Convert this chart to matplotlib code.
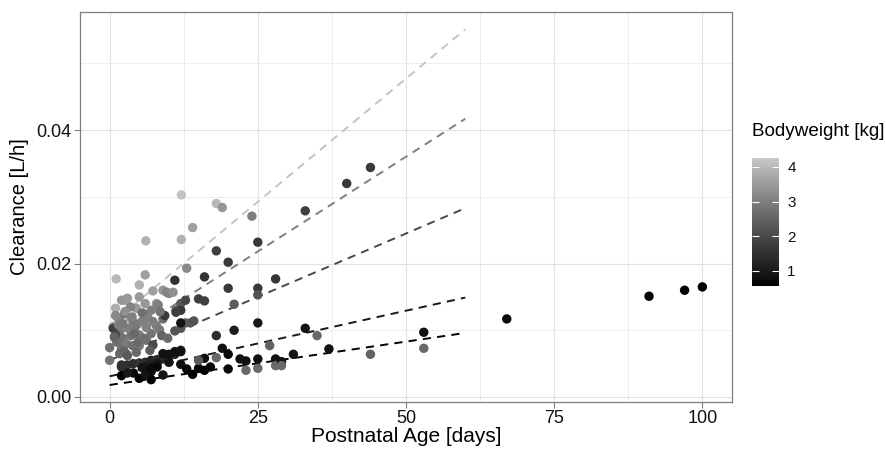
import matplotlib
matplotlib.use("Agg")
import matplotlib.pyplot as plt
import matplotlib.colors as mcolors
import numpy as np

plt.rcParams['font.family'] = ['Liberation Sans', 'DejaVu Sans']

# observed data: postnatal age [days], clearance [L/h], bodyweight [kg]
age = [1.1, 6, 5, 1, 2.5, 3, 2, 7.3, 9, 7.9, 5, 3.5, 0.6, 4.5,
       0, 0, 1.7, 1.7, 2.2, 2, 2.8, 3.6, 3.1, 4.3, 5.4, 6.2, 7, 8.2,
       10, 9.6, 10.7, 11.2, 12, 7, 7.9, 9, 6.2, 5, 3.9, 5, 6.2, 7.3,
       8.4, 1.7, 1.1, 4.5, 11, 12, 12.8, 13.6, 14.2, 12.8,
       0.6, 1, 12, 11.2, 9.3, 7.3, 12,
       1, 1.5, 2.5, 3.5, 4, 5.5, 6.5, 8.5, 2.5, 4.8, 6.8, 3, 1.3, 2.2,
       4.2, 5.8, 0.8, 2.6, 3.8, 6, 8.8, 9.8,
       2, 2, 3, 4, 5, 6, 7, 8, 9, 10, 11, 12, 6, 7, 8, 7, 5.5,
       10, 9, 7, 4, 2, 5, 7, 8, 10, 12, 12, 11, 13, 14, 15, 16, 16, 17,
       15, 18, 19, 20, 20, 22, 23, 23, 25, 25, 28, 28, 29, 29, 3, 6, 9,
       12.1, 18, 19, 24, 14, 12.1, 6.1, 13, 25, 18, 20, 16, 11, 28, 20,
       25, 25, 16, 15, 21, 25, 21, 18, 27, 31,
       33, 40, 44, 33, 35, 37, 44, 53, 53, 67, 91, 97, 100]
clearance = [0.0177, 0.0183, 0.0168, 0.0133, 0.0145, 0.0148, 0.0145, 0.0159,
             0.0160, 0.0140, 0.0150, 0.0118, 0.0105, 0.0133,
             0.0074, 0.0055, 0.0115, 0.0098, 0.0088, 0.0072, 0.0080, 0.0092,
             0.0103, 0.0105, 0.0113, 0.0123, 0.0130, 0.0138,
             0.0155, 0.0157, 0.0157, 0.0130, 0.0140, 0.0095, 0.0107, 0.0117,
             0.0085, 0.0093, 0.0077, 0.0077, 0.0104, 0.0113,
             0.0101, 0.0065, 0.0085, 0.0067, 0.0099, 0.0103, 0.0111, 0.0111,
             0.0114, 0.0145,
             0.0103, 0.0093, 0.0130, 0.0127, 0.0122, 0.0078, 0.0111,
             0.0122, 0.0108, 0.0125, 0.0135, 0.0112, 0.0126, 0.0118, 0.0128,
             0.0068, 0.0082, 0.0070, 0.0062, 0.0082, 0.0110,
             0.0095, 0.0088, 0.0090, 0.0128, 0.0120, 0.0140, 0.0092, 0.0088,
             0.0045, 0.0048, 0.0048, 0.0050, 0.0051, 0.0052, 0.0055, 0.0056,
             0.0057, 0.0060, 0.0064, 0.0070, 0.0045, 0.0048, 0.0050, 0.0038,
             0.0044,
             0.0052, 0.0065, 0.0043, 0.0036, 0.0032, 0.0028, 0.0026, 0.0045,
             0.0064, 0.0068, 0.0049, 0.0068, 0.0042, 0.0034, 0.0043, 0.0058,
             0.0040, 0.0045,
             0.0055, 0.0059, 0.0073, 0.0064, 0.0042, 0.0057, 0.0054, 0.0040,
             0.0057, 0.0043, 0.0057, 0.0047, 0.0053, 0.0047, 0.0036, 0.0033,
             0.0033,
             0.0303, 0.0290, 0.0284, 0.0271, 0.0254, 0.0236, 0.0234, 0.0193,
             0.0232, 0.0219, 0.0202, 0.0180, 0.0175, 0.0177, 0.0163,
             0.0163, 0.0153, 0.0144, 0.0147, 0.0139, 0.0111, 0.0100, 0.0092,
             0.0077, 0.0064,
             0.0279, 0.0320, 0.0344, 0.0103, 0.0092, 0.0072, 0.0064, 0.0097,
             0.0073, 0.0117, 0.0151, 0.0160, 0.0165]
weight = [4.0, 3.6, 3.9, 3.8, 3.6, 3.5, 3.4, 3.6, 3.4, 3.4, 3.5, 3.4, 3.9, 3.5,
          2.7, 2.8, 3.0, 2.9, 2.8, 2.7, 2.9, 2.8, 3.0, 2.9, 3.0, 3.1, 3.0, 3.0,
          3.2, 3.1, 3.3, 2.4, 2.3, 2.8, 2.9, 2.7, 2.8, 3.0, 2.7, 2.9, 3.1, 3.0,
          2.9, 2.6, 2.8, 2.6, 2.2, 2.2, 2.4, 2.3, 2.2, 2.0,
          1.8, 1.9, 1.7, 1.8, 1.7, 2.0, 0.9,
          3.2, 3.0, 2.8, 3.1, 2.9, 2.7, 3.0, 2.8, 2.5, 2.6, 2.4, 2.3, 2.7, 2.9,
          2.6, 2.7, 2.5, 3.3, 3.0, 3.4, 2.5, 2.6,
          1.6, 1.5, 1.5, 1.4, 1.5, 1.4, 1.3, 1.4, 1.3, 1.4, 1.2, 1.1, 1.0, 1.1,
          1.0, 0.8, 0.9,
          0.9, 0.8, 0.7, 0.7, 0.6, 0.6, 0.6, 0.7, 0.8, 0.8, 0.8, 0.8, 0.7, 0.6,
          0.7, 0.8, 0.6, 0.7,
          2.3, 2.6, 0.8, 0.7, 0.7, 0.8, 0.8, 2.6, 0.8, 2.6, 0.8, 2.6, 0.9, 2.6,
          1.0, 0.9, 0.9,
          4.2, 4.0, 3.4, 3.0, 3.6, 3.9, 3.9, 3.2, 1.7, 1.8, 1.7, 1.6, 1.5, 1.6,
          1.7, 1.7, 2.2, 1.8, 1.8, 2.4, 1.0, 1.1, 1.4, 2.5, 0.9,
          1.8, 1.7, 1.7, 0.9, 2.6, 0.8, 2.5, 0.8, 2.6, 0.7, 0.6, 0.6, 0.6]

# model predictions at day 0 and day 60 for five bodyweights
line_wt = [0.6, 1.0, 2.0, 3.0, 4.2]
line_age = [0, 60]
line_cl_start = [0.0018, 0.0031, 0.0055, 0.0076, 0.0108]
line_cl_end = [0.0096, 0.0149, 0.0283, 0.0417, 0.0551]

wt_min, wt_max = 0.56, 4.26


def lab_gray(L):
    # CIE L* -> sRGB grey, like ggplot's Lab gradient
    L = np.asarray(L, dtype=float)
    Y = np.where(L > 8, ((L + 16) / 116) ** 3, L / 903.3)
    v = np.where(Y <= 0.0031308, 12.92 * Y, 1.055 * Y ** (1 / 2.4) - 0.055)
    return np.clip(v, 0, 1)


Ls = np.linspace(0, 80, 64)
greys = lab_gray(Ls)
cmap = mcolors.ListedColormap([(g, g, g) for g in greys])
norm = mcolors.Normalize(vmin=wt_min, vmax=wt_max)

fig = plt.figure(figsize=(8.87, 4.51), dpi=100)
ax = fig.add_axes([80 / 887, 1 - 402 / 451, 652 / 887, 390 / 451])

ax.set_xlim(-5, 105)
ax.set_ylim(-0.00075, 0.0577)
ax.set_xticks([0, 25, 50, 75, 100])
ax.set_xticks([12.5, 37.5, 62.5, 87.5], minor=True)
ax.set_yticks([0.0, 0.02, 0.04])
ax.set_yticks([0.01, 0.03, 0.05], minor=True)
ax.set_yticklabels(['0.00', '0.02', '0.04'])
ax.grid(True, which='major', color='#e2e2e2', linewidth=0.8)
ax.grid(True, which='minor', color='#eeeeee', linewidth=0.7)
ax.set_axisbelow(True)
for sp in ax.spines.values():
    sp.set_color('#7f7f7f')
    sp.set_linewidth(0.9)
ax.tick_params(which='major', length=4, width=0.8, color='#7f7f7f',
               labelsize=13, labelcolor='#111111', pad=2)
ax.tick_params(which='minor', length=0)

for w, c0, c1 in zip(line_wt, line_cl_start, line_cl_end):
    ax.plot(line_age, [c0, c1], color=cmap(norm(w)), linestyle=(0, (4.2, 3.2)),
            linewidth=1.4, zorder=2)

ax.scatter(age, clearance, c=weight, cmap=cmap, norm=norm, s=46,
           linewidths=0, zorder=3)

ax.set_xlabel('Postnatal Age [days]', fontsize=15, labelpad=0)
ax.set_ylabel('Clearance [L/h]', fontsize=14.5, labelpad=5)

# colour bar legend
cax = fig.add_axes([752 / 887, 1 - 286 / 451, 27 / 887, 128 / 451])
sm = plt.cm.ScalarMappable(cmap=cmap, norm=norm)
cb = fig.colorbar(sm, cax=cax, ticks=[1, 2, 3, 4])
cb.outline.set_visible(False)
cax.yaxis.set_ticks_position('both')
cax.tick_params(direction='in', length=5, width=0.8, color='white',
                labelsize=11, labelcolor='#111111', pad=6)
fig.text(752 / 887, 1 - 132 / 451, 'Bodyweight [kg]', fontsize=13.6,
         va='center', ha='left')

plt.savefig('out.png', dpi=100)
